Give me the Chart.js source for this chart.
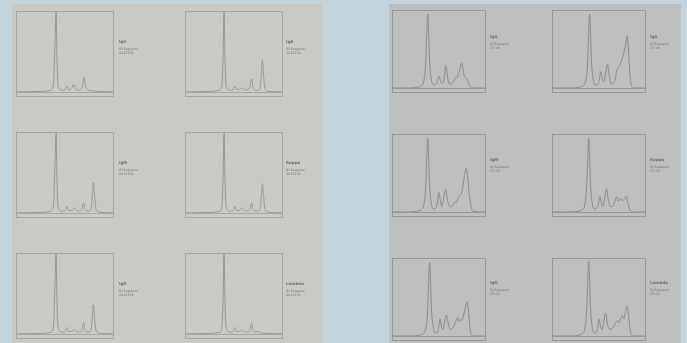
<!DOCTYPE html>
<html>
<head>
<meta charset="utf-8">
<script src="https://cdn.jsdelivr.net/npm/chart.js@4/dist/chart.umd.min.js"></script>
<style>
  html, body { margin:0; padding:0; }
  body { width:687px; height:343px; background:#c3d4dc; position:relative; overflow:hidden; font-family:"DejaVu Sans", sans-serif; }
  .page { position:absolute; }
  #pageL { left:12px; top:4px; width:310px; height:339px; background:#cac9c6; }
  #pageR { left:389px; top:4px; width:292px; height:339px; background:#bdbebe; }
  .box { position:absolute; filter: blur(0.35px); }
  .lab { position:absolute; color:#707070; line-height:1; white-space:nowrap; filter: blur(0.3px); }
  .lab b { font-size:4px; display:block; margin-bottom:4px; }
  .lab span { font-size:3.3px; display:block; margin-bottom:1px; }
</style>
</head>
<body>
<div class="page" id="pageL"></div>
<div class="page" id="pageR"></div>
<script>
// ---- data: [retention position, signal] pairs ----
const leftLabels  = ["IgG", "IgA", "IgM", "Kappa", "IgD", "Lambda"];
const rightLabels = ["IgG", "IgA", "IgM", "Kappa", "IgD", "Lambda"];
const leftIdText  = "ID Sequenz";
const leftNoText  = "0013114";
const rightIdText = "ID Sequenz";
const rightNoText = "17-08";

const traceL1 = [[0,0],[20,0.5],[30,1],[35,2],[37,4],[38.5,15],[39.5,50],[40.5,90],[41,100],[41.5,60],[42.5,15],[44,4],[46,2.5],[48,2],[50,3],[52,7],[53.5,3],[55,3],[57,5],[59,9],[61,4],[63,2.5],[66,3],[68,8],[69.5,18],[71,6],[73,3],[75,2],[77,1.5],[80,1],[90,0.5],[100,0]];
const traceL2 = [[0,0],[20,0.5],[30,1],[35,2],[37,4],[38,15],[39,50],[39.5,90],[40,100],[40.5,60],[41.5,15],[43,4],[45,2.5],[47,2],[49,3],[51,7],[53,3],[55,3],[58,5],[61,2.5],[64,3],[66,5],[68,16],[70,4],[72,2.5],[74,2],[76,3],[77.5,15],[79,39],[80.5,15],[82,3],[84,1],[88,0.5],[100,0]];
const traceL3 = [[0,0],[20,0.5],[30,1],[35,2],[37,4],[38.5,15],[39.5,50],[40.5,90],[41,100],[41.5,60],[42.5,15],[44,4],[46,2.5],[48,2],[50,3],[52,8],[53.5,3],[56,3],[58,4],[60,6],[62,3],[65,2.5],[67,4],[69,12],[70.5,4],[73,2.5],[75,2.5],[77,8],[78,25],[79,38],[80,25],[81.5,5],[84,1.5],[90,0.5],[100,0]];
const traceL4 = [[0,0],[20,0.5],[30,1],[35,2],[37,4],[38,15],[39,50],[39.5,90],[40,100],[40.5,60],[41.5,15],[43,4],[45,2.5],[47,2],[49,3],[51,8],[52.5,3],[55,3],[58,6],[60,3],[63,2.5],[66,4],[68,12],[69.5,4],[72,2.5],[75,2.5],[77,8],[78,24],[79,36],[80,24],[81.5,5],[84,1.5],[90,0.5],[100,0]];
const traceL5 = [[0,0],[20,0.5],[30,1],[35,2],[37,4],[38.5,15],[39.5,50],[40.5,90],[41,100],[41.5,60],[42.5,15],[44,4],[46,2.5],[48,2],[50,3],[52,8],[53.5,3],[56,3],[58,4],[60,5],[62,3],[65,2.5],[67,4],[69,14],[70.5,4],[73,2.5],[75,2.5],[77,8],[78,23],[79,36],[80,23],[81.5,5],[84,1.5],[90,0.5],[100,0]];
const traceL6 = [[0,0],[20,0.5],[30,1],[35,2],[37,4],[38,15],[39,50],[39.5,90],[40,100],[40.5,60],[41.5,15],[43,4],[45,2.5],[47,2],[49,3],[51,8],[52.5,3],[55,3],[58,5],[60,3],[63,2.5],[66,4],[68,13],[69.5,4],[72,2.5],[75,3],[77,1.5],[80,1],[90,0.5],[100,0]];

const traceR1 = [[0,0],[20,0],[27,1],[31,3],[34,10],[36,35],[37,70],[38,95],[39,70],[40,35],[42,10],[44,4],[46,4],[48,8],[50,15],[52,8],[54,6],[56,18],[57,29],[58.5,20],[60,8],[62,5],[64,6],[66,10],[68,14],[69,13],[71,20],[73,28],[74,32],[75.5,24],[77,15],[79,13],[81,8],[83,2],[86,0],[100,0]];
const traceR2 = [[0,0],[20,0],[29,1],[33,3],[36,10],[38,35],[39,70],[40,95],[41,70],[42,35],[44,10],[46,4],[48,4],[50,9],[52,21],[53.5,12],[55,8],[57,18],[59,30],[61,15],[63,5],[65,6],[67,10],[69,23],[71,27],[73,32],[75,39],[77,48],[79,60],[80,67],[81.5,45],[83,15],[85,2],[88,0],[100,0]];
const traceR3 = [[0,0],[20,0],[27,1],[31,3],[34,10],[36,35],[37,70],[38,95],[39,70],[40,35],[42,10],[44,4],[46,4],[48,10],[50,25],[51.5,14],[53,7],[55,18],[57,29],[59,15],[61,8],[63,7],[65,9],[67,13],[68.5,12],[70,17],[71.5,20],[73,22],[75,30],[77,45],[79,56],[80.5,45],[82,25],[84,8],[86,1],[100,0]];
const traceR4 = [[0,0],[20,0],[28,1],[32,3],[35,10],[37,35],[38,70],[39,95],[40,70],[41,35],[43,10],[45,4],[47,4],[49,9],[51,20],[52.5,12],[54,7],[56,18],[58,30],[60,15],[62,7],[64,7],[66,10],[68,18],[69,20],[70,15],[71,14],[72,17],[73.5,17],[75,14],[76.5,16],[78,18],[79,20],[80.5,13],[82,6],[84,1],[87,0],[100,0]];
const traceR5 = [[0,0],[20,0],[29,1],[33,3],[36,10],[38,35],[39,70],[40,94],[41,70],[42,35],[44,10],[46,4],[48,4],[49.5,10],[51,22],[52.5,13],[54,8],[56,18],[58,27],[60,15],[62,9],[63.5,9],[65,11],[67,16],[69,22],[70,24],[71.5,18],[73,21],[74.5,20],[76,26],[78,36],[80,44],[81.5,30],[83,10],[85,1],[88,0],[100,0]];
const traceR6 = [[0,0],[20,0],[28,1],[32,3],[35,10],[37,35],[38,70],[39,96],[40,70],[41,35],[43,10],[45,4],[47,4],[48.5,10],[50,22],[51.5,13],[53,8],[55,18],[57,29],[59,15],[61,9],[63,9],[65,11],[67,15],[69,19],[70,20],[71.5,17],[73,22],[75,26],[76.5,22],[78,30],[80,38],[81.5,26],[83,9],[85,1],[88,0],[100,0]];

const leftTraces  = [traceL1, traceL2, traceL3, traceL4, traceL5, traceL6];
const rightTraces = [traceR1, traceR2, traceR3, traceR4, traceR5, traceR6];

// ---- layout ----
const pages = [
  { traces: leftTraces, labels: leftLabels, idText: leftIdText, noText: leftNoText,
    cols: [16, 185], rows: [11, 132, 253], w: 98, h: 86, ymin: -6.2,
    labX: [119, 286], labY: [40, 161, 282], line: '#969694', frame: '#a7a6a3' },
  { traces: rightTraces, labels: rightLabels, idText: rightIdText, noText: rightNoText,
    cols: [392, 552], rows: [10, 134, 258], w: 94, h: 83, ymin: -6.4,
    labX: [490, 650], labY: [35, 158, 281], line: '#8a8a8a', frame: '#989898' }
];

const framePlugin = {
  id: 'frame',
  afterDraw(chart, args, opts) {
    const { ctx, chartArea: a, scales } = chart;
    ctx.save();
    ctx.strokeStyle = opts.color;
    ctx.lineWidth = 1;
    ctx.strokeRect(Math.round(a.left) + 0.5, Math.round(a.top) + 0.5,
                   Math.round(a.right - a.left) - 1, Math.round(a.bottom - a.top) - 1);
    const y0 = Math.round(scales.y.getPixelForValue(0)) + 0.5;
    ctx.beginPath();
    ctx.moveTo(a.left, y0);
    ctx.lineTo(a.right, y0);
    ctx.stroke();
    ctx.restore();
  }
};

pages.forEach(p => {
  p.traces.forEach((tr, i) => {
    const c = i % 2, r = Math.floor(i / 2);
    const box = document.createElement('div');
    box.className = 'box';
    box.style.left = (p.cols[c] - 1) + 'px';
    box.style.top = (p.rows[r] - 1) + 'px';
    box.style.width = (p.w + 2) + 'px';
    box.style.height = (p.h + 2) + 'px';
    const cv = document.createElement('canvas');
    box.appendChild(cv);
    document.body.appendChild(box);

    new Chart(cv, {
      type: 'line',
      data: { datasets: [{
        data: tr.map(([x, y]) => ({ x, y })),
        borderColor: p.line, borderWidth: 1, pointRadius: 0,
        cubicInterpolationMode: 'monotone', fill: false
      }]},
      options: {
        responsive: true, maintainAspectRatio: false, animation: false,
        layout: { padding: 1 },
        events: [],
        scales: {
          x: { type: 'linear', min: 0, max: 100, display: false },
          y: { min: p.ymin, max: 100, display: false }
        },
        plugins: { legend: { display: false }, tooltip: { enabled: false }, frame: { color: p.frame } }
      },
      plugins: [framePlugin]
    });

    const lab = document.createElement('div');
    lab.className = 'lab';
    lab.style.left = p.labX[c] + 'px';
    lab.style.top = p.labY[r] + 'px';
    lab.innerHTML = '<b>' + p.labels[i] + '</b><span>' + p.idText + '</span><span>' + p.noText + '</span>';
    document.body.appendChild(lab);
  });
});
</script>
</body>
</html>
